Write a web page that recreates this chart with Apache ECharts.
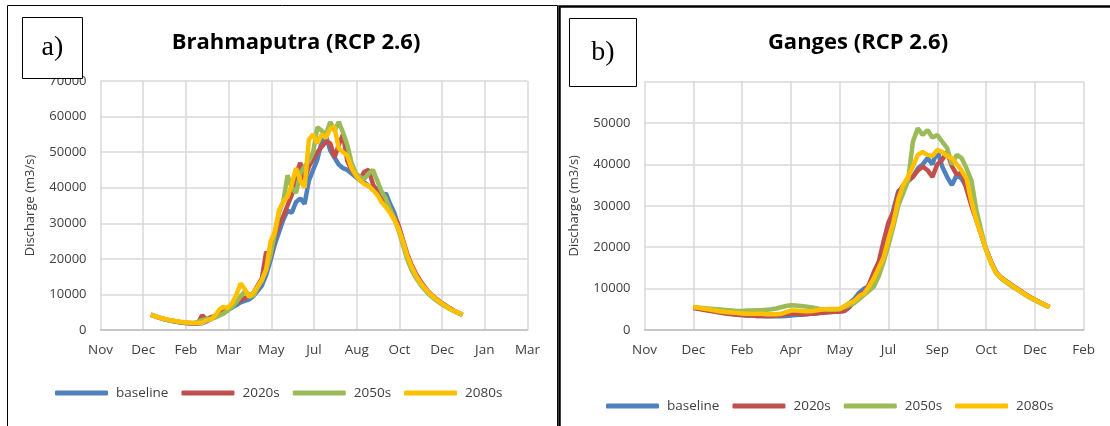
<!DOCTYPE html>
<html><head><meta charset="utf-8">
<script src="https://cdn.jsdelivr.net/npm/echarts@6/dist/echarts.min.js"></script>
<style>html,body{margin:0;padding:0;background:#fff}#c{width:1110px;height:426px}</style>
</head><body><div id="c"></div>
<script>
// ---------- DATA ----------
const seriesNames = ['baseline', '2020s', '2050s', '2080s'];
const seriesColors = ['#4F81BD', '#C0504D', '#9BBB59', '#FFC000'];

// Panel a: Brahmaputra
const titleA = 'Brahmaputra (RCP 2.6)';
const tickLabelsA = ['Nov','Dec','Feb','Mar','May','Jul','Aug','Oct','Dec','Jan','Mar'];
const daysA = [59,64,69,74,79,84,89,94,99,104,109,114,119,124,129,134,139,144,149,154,159,164,169,174,179,184,189,194,199,204,209,214,219,224,229,234,239,244,249,254,259,264,269,274,279,284,289,294,299,304,309,314,319,324,329,334,339,344,349,354,359,364,369,374,379,384,389,394,399,404,409,414,419,424];
const brahBaseline = [4300,3900,3500,3100,2800,2600,2400,2200,2050,1950,1850,1800,1900,2400,3000,3600,4200,4800,5600,6300,7000,7800,8200,8600,9500,11000,12500,15500,19500,24000,27500,31000,33500,33000,36000,37000,35500,42000,45000,48000,53000,54500,50500,48500,46500,45500,45000,44000,43000,42000,41500,40500,39500,40000,37000,38500,35500,33000,29000,25000,21000,18000,15500,13500,12000,10500,9400,8500,7600,6900,6100,5400,4800,4300];
const brah2020s = [4300,3800,3400,3100,2800,2500,2300,2100,1950,1850,1800,1800,4100,2900,3600,3900,4500,5300,6000,6800,7600,8400,9000,9500,10500,12500,14500,22000,20500,26000,29500,32000,35000,38000,44000,47000,42000,46000,48000,50000,51500,53000,52500,48500,52000,55000,47500,45000,43500,42500,44500,45000,41000,38500,37500,35500,34000,32000,29500,25500,21500,18500,16000,14000,12300,10800,9600,8600,7700,6900,6100,5400,4800,4300];
const brah2050s = [4200,3800,3400,3100,2800,2600,2400,2200,2100,2000,2000,2300,2800,3000,3200,3500,4000,4600,5500,6500,7800,9500,10800,10000,9500,12000,14000,17000,21000,27000,33000,36000,43500,40000,38500,44000,46000,47500,50000,57000,56000,55000,58500,56000,58500,55500,52000,47000,44000,43000,42500,44000,45000,42000,39000,37000,34000,31500,28000,24000,20000,17000,14800,13000,11500,10200,9100,8200,7300,6600,5900,5300,4700,4200];
const brah2080s = [4400,3900,3500,3200,2900,2700,2500,2300,2200,2100,2000,1950,2000,2700,3000,4000,5700,6500,6200,7500,9800,13100,11500,9200,10500,12200,14000,17000,24800,27500,33700,36000,37500,41000,45500,42000,40000,53500,55000,52500,55000,54000,56600,57000,51000,50000,49000,45500,43500,42000,41000,40500,39300,38000,36000,34600,33000,30900,28500,25000,21000,18000,15500,13500,12000,10600,9500,8500,7600,6800,6000,5400,4800,4400];

// Panel b: Ganges
const titleB = 'Ganges (RCP 2.6)';
const tickLabelsB = ['Nov','Dec','Feb','Apr','May','Jul','Sep','Oct','Dec','Feb'];
const daysB = [50,55,60,65,70,75,80,85,90,95,100,105,110,115,120,125,130,135,140,145,150,155,160,165,170,175,180,185,190,195,200,205,210,215,220,225,230,235,240,245,250,255,260,265,270,275,280,285,290,295,300,305,310,315,320,325,330,335,340,345,350,355,360,365,370,375,380,385,390,395,400,405,410,415];
const gangBaseline = [5400,5200,5000,4800,4600,4400,4200,4000,3900,3700,3600,3500,3500,3400,3400,3300,3300,3300,3300,3400,3500,3600,3700,3800,3900,4000,4200,4300,4400,4600,4800,5500,6500,7500,9000,10000,10500,12000,15000,19000,24000,29000,33500,34500,36500,37000,39000,40000,41500,40000,43500,39500,37000,35000,37500,36500,34500,31000,27500,23000,19500,16500,14000,12700,11800,11000,10200,9400,8600,7900,7300,6700,6100,5600];
const gang2020s = [5300,5100,4900,4700,4500,4300,4100,3900,3800,3700,3600,3500,3500,3400,3400,3400,3400,3500,3600,3800,3900,3900,3800,3800,3900,4000,4100,4200,4300,4400,4400,4600,5500,7000,8500,9000,11000,14000,16500,21500,26000,28600,33000,35000,35900,37000,38500,39500,38600,37000,40000,41100,43000,39500,37500,38000,34000,30000,26500,23000,19500,16500,14000,12800,11900,11100,10300,9500,8700,8000,7300,6700,6100,5500];
const gang2050s = [5500,5400,5300,5200,5100,5000,4900,4800,4700,4600,4600,4700,4700,4800,4800,4900,5000,5200,5500,5800,6000,5900,5800,5700,5500,5300,5100,5000,4900,4900,5000,5500,6000,6500,7500,8500,9500,10500,13000,16500,20500,25000,30000,33000,36000,45500,48700,47100,48300,46500,47100,45500,44000,40000,42300,41500,39000,36100,29000,24000,19500,16300,13800,12500,11600,10800,10000,9300,8500,7800,7200,6600,6000,5500];
const gang2080s = [5600,5400,5200,5000,4800,4600,4400,4300,4200,4100,4000,3900,3900,3900,3900,3800,3800,3800,3900,4300,4700,4700,4600,4500,4500,4700,4900,5000,5100,5100,5100,5800,6500,7000,8200,8800,10500,12500,15000,17500,22000,26000,31500,35000,37000,39500,42300,43000,42300,42000,43500,43000,42000,41500,40000,38500,36500,31000,26500,23000,19300,16300,13900,12700,11800,11000,10200,9400,8600,7900,7300,6700,6100,5600];

const yTicksA = { min: 0, max: 70000, step: 10000 };
const yTicksB = { min: 0, max: 60000, step: 10000 };
const dayStep = 50;

// ---------- CHART ----------
const FONT = 'Open Sans, Liberation Sans, sans-serif';
const pair = (days, vals) => days.map((d, i) => [d, vals[i]]);
const dataA = [brahBaseline, brah2020s, brah2050s, brah2080s];
const dataB = [gangBaseline, gang2020s, gang2050s, gang2080s];

function xAxis(gridIndex, labels) {
  return {
    type: 'value', gridIndex, min: 0, max: (labels.length - 1) * dayStep, interval: dayStep,
    axisLine: { show: true, lineStyle: { color: '#bfbfbf', width: 1.5 } },
    axisTick: { show: false },
    splitLine: { show: true, lineStyle: { color: '#d9d9d9', width: 1.5 } },
    axisLabel: { color: '#404040', fontFamily: FONT, fontSize: 13.5, margin: 13,
      formatter: v => labels[Math.round(v / dayStep)] || '' }
  };
}
function yAxis(gridIndex, t) {
  return {
    type: 'value', gridIndex, min: t.min, max: t.max, interval: t.step,
    name: 'Discharge (m3/s)', nameLocation: 'middle', nameGap: 64,
    nameTextStyle: { color: '#404040', fontFamily: FONT, fontSize: 13 },
    axisLine: { show: false }, axisTick: { show: false },
    splitLine: { show: true, lineStyle: { color: '#d9d9d9', width: 1.5 } },
    axisLabel: { color: '#404040', fontFamily: FONT, fontSize: 13, margin: 14,
      formatter: v => String(v) }
  };
}
const series = [];
[dataA, dataB].forEach((set, gi) => {
  const days = gi === 0 ? daysA : daysB;
  set.forEach((vals, si) => {
    series.push({
      type: 'line', name: seriesNames[si], xAxisIndex: gi, yAxisIndex: gi,
      data: pair(days, vals), showSymbol: false, symbol: 'none', smooth: false,
      lineStyle: { color: seriesColors[si], width: 4.5 }, itemStyle: { color: seriesColors[si] },
      z: 2 + si, animation: false
    });
  });
});
function legend(left, top) {
  return {
    left, top, orient: 'horizontal', data: seriesNames, icon: 'roundRect',
    itemWidth: 53, itemHeight: 5, itemGap: 13,
    textStyle: { color: '#404040', fontFamily: FONT, fontSize: 13.5, padding: [0, 0, 0, 3] }
  };
}
const chart = echarts.init(document.getElementById('c'), null, { renderer: 'canvas' });
chart.setOption({
  animation: false,
  color: seriesColors,
  title: [
    { text: titleA, left: 291, top: 27, textAlign: 'center',
      textStyle: { fontFamily: FONT, fontWeight: 'bold', fontSize: 22, color: '#000' } },
    { text: titleB, left: 853, top: 27, textAlign: 'center',
      textStyle: { fontFamily: FONT, fontWeight: 'bold', fontSize: 22, color: '#000' } }
  ],
  legend: [legend(50, 381), legend(601, 394)],
  grid: [
    { left: 100.5, right: 1110 - 527.5, top: 81, bottom: 96 },
    { left: 644.5, right: 1110 - 1083.7, top: 81.6, bottom: 96 }
  ],
  xAxis: [xAxis(0, tickLabelsA), xAxis(1, tickLabelsB)],
  yAxis: [yAxis(0, yTicksA), yAxis(1, yTicksB)],
  series,
  graphic: [
    { type: 'rect', z: 100, shape: { x: 7.5, y: 5.5, width: 550, height: 440 },
      style: { fill: 'none', stroke: '#000', lineWidth: 1 } },
    { type: 'rect', z: 100, shape: { x: 559.5, y: 6.5, width: 560, height: 440 },
      style: { fill: 'none', stroke: '#000', lineWidth: 2.5 } },
    { type: 'rect', z: 100, shape: { x: 22.5, y: 17.5, width: 60, height: 61 },
      style: { fill: '#fff', stroke: '#000', lineWidth: 1 } },
    { type: 'text', z: 101, style: { text: 'a)', x: 52.5, y: 48, textAlign: 'center', textVerticalAlign: 'middle',
      font: '28px "Liberation Serif", serif', fill: '#000' } },
    { type: 'rect', z: 100, shape: { x: 569.5, y: 18.5, width: 67, height: 68 },
      style: { fill: '#fff', stroke: '#000', lineWidth: 1 } },
    { type: 'text', z: 101, style: { text: 'b)', x: 603, y: 53, textAlign: 'center', textVerticalAlign: 'middle',
      font: '28px "Liberation Serif", serif', fill: '#000' } }
  ]
});
</script></body></html>
